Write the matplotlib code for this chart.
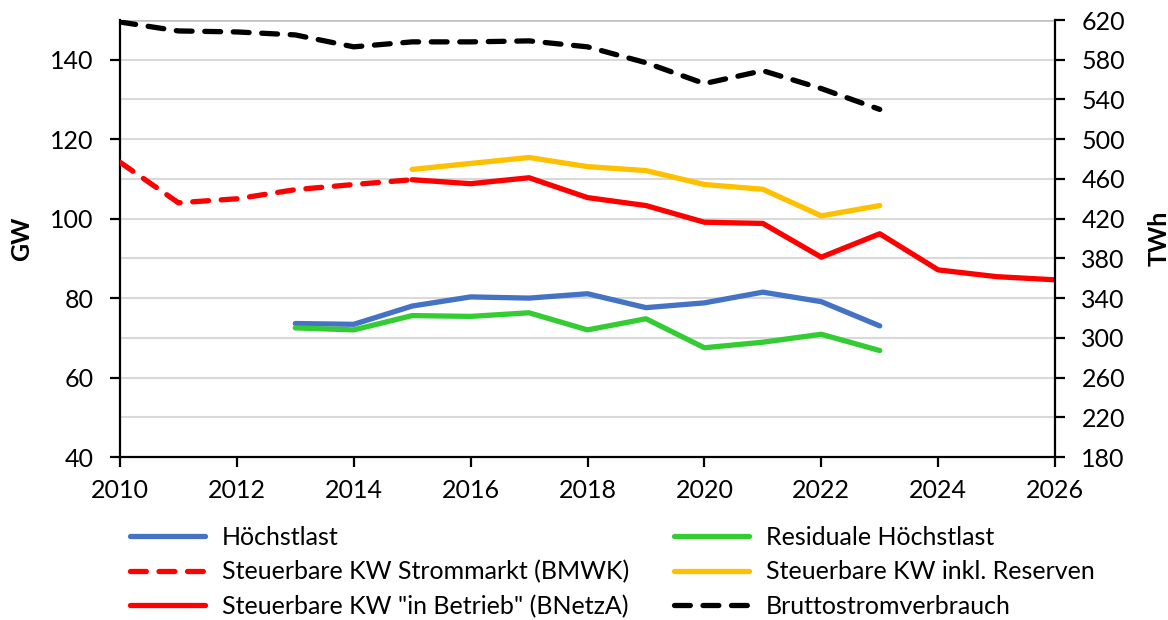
import matplotlib
matplotlib.use("Agg")
import matplotlib.pyplot as plt
from matplotlib.lines import Line2D

plt.rcParams['font.family'] = ['Lato', 'DejaVu Sans']

years_hl = [2013, 2014, 2015, 2016, 2017, 2018, 2019, 2020, 2021, 2022, 2023]
hoechstlast = [73.6, 73.4, 78.0, 80.3, 80.0, 81.1, 77.6, 78.8, 81.5, 79.1, 73.0]
residual = [72.5, 72.0, 75.6, 75.4, 76.3, 72.0, 74.8, 67.5, 68.9, 70.9, 66.8]

years_bmwk = [2010, 2011, 2012, 2013, 2014, 2015]
bmwk = [114.2, 104.0, 105.0, 107.3, 108.6, 109.8]

years_bnetza = [2015, 2016, 2017, 2018, 2019, 2020, 2021, 2022, 2023, 2024, 2025, 2026]
bnetza = [109.8, 108.8, 110.3, 105.3, 103.3, 99.1, 98.8, 90.3, 96.2, 87.1, 85.4, 84.6]

years_res = [2015, 2016, 2017, 2018, 2019, 2020, 2021, 2022, 2023]
reserven = [112.4, 113.9, 115.4, 113.1, 112.1, 108.6, 107.4, 100.7, 103.3]

years_brutto = [2010, 2011, 2012, 2013, 2014, 2015, 2016, 2017, 2018, 2019, 2020, 2021, 2022, 2023]
brutto = [618, 609, 608, 605, 593, 598, 598, 599, 593, 577, 556, 569, 551, 530]

fig = plt.figure(figsize=(11.68, 6.2), dpi=100)
ax = fig.add_axes([0.1027, 0.2629, 0.8006, 0.7048])
ax2 = ax.twinx()

lw = 3.8
blue = '#4472C4'
green = '#33CC33'
red = '#FF0000'
yellow = '#FFC000'
dash = (3, 2.4)

ax.plot(years_hl, hoechstlast, color=blue, lw=lw, solid_capstyle='round', zorder=3)
ax.plot(years_hl, residual, color=green, lw=lw, solid_capstyle='round', zorder=3)
ax.plot(years_bmwk, bmwk, color=red, lw=lw, dashes=dash, dash_capstyle='round', zorder=3)
ax.plot(years_bnetza, bnetza, color=red, lw=lw, solid_capstyle='round', zorder=3)
ax.plot(years_res, reserven, color=yellow, lw=lw, solid_capstyle='round', zorder=3)
ax2.plot(years_brutto, brutto, color='black', lw=lw, dashes=dash, dash_capstyle='round', zorder=3)

ax.set_xlim(2010, 2026)
ax.set_ylim(40, 150)
ax2.set_ylim(180, 620)
ax.set_xticks(range(2010, 2027, 2))
ax.set_yticks(range(40, 141, 20))
ax2.set_yticks(range(180, 621, 40))

for y in range(50, 150, 10):
    ax.axhline(y, color='#D9D9D9', lw=1.5, zorder=1)
ax.axhline(150, color='#BFBFBF', lw=1.8, zorder=1)

for a in (ax, ax2):
    a.spines['top'].set_visible(False)
    for s in ('left', 'right', 'bottom'):
        a.spines[s].set_linewidth(1.6)
        a.spines[s].set_color('black')
    a.tick_params(axis='both', direction='out', length=7, width=1.6, labelsize=18)
ax.tick_params(axis='y', pad=12)
ax2.tick_params(axis='y', pad=12)
ax.tick_params(axis='x', pad=9)
ax2.spines['left'].set_visible(False)
ax2.spines['bottom'].set_visible(False)
ax.spines['right'].set_visible(False)

ax.set_ylabel('GW', fontsize=18, fontweight='bold', labelpad=12)
ax2.set_ylabel('TWh', fontsize=18, fontweight='bold', labelpad=16)

handles = [
    Line2D([], [], color=blue, lw=lw, solid_capstyle='round'),
    Line2D([], [], color=red, lw=lw, dashes=dash, dash_capstyle='round'),
    Line2D([], [], color=red, lw=lw, solid_capstyle='round'),
    Line2D([], [], color=green, lw=lw, solid_capstyle='round'),
    Line2D([], [], color=yellow, lw=lw, solid_capstyle='round'),
    Line2D([], [], color='black', lw=lw, dashes=dash, dash_capstyle='round'),
]
labels = ['Höchstlast', 'Steuerbare KW Strommarkt (BMWK)', 'Steuerbare KW "in Betrieb" (BNetzA)',
          'Residuale Höchstlast', 'Steuerbare KW inkl. Reserven', 'Bruttostromverbrauch']
fig.legend(handles, labels, ncol=2, loc='upper left', bbox_to_anchor=(130 / 1168, 1 - 526 / 620),
           frameon=False, fontsize=18, handlelength=3.0, handletextpad=0.68,
           columnspacing=1.8, labelspacing=0.45, borderpad=0, borderaxespad=0)

fig.savefig('out.png', dpi=100)
